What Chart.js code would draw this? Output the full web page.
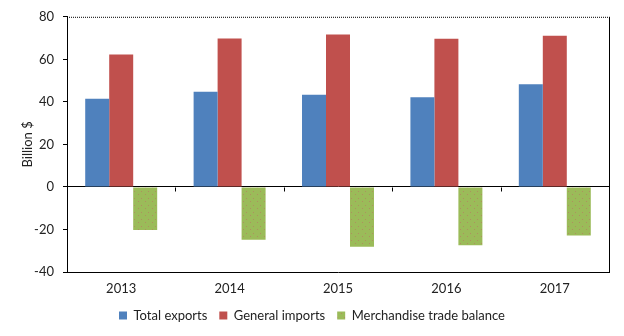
<!DOCTYPE html>
<html>
<head>
<meta charset="utf-8">
<script src="https://cdn.jsdelivr.net/npm/chart.js@4/dist/chart.umd.min.js"></script>
<style>
    html, body { margin: 0; padding: 0; background: #fff; }
    #wrap { width: 624px; height: 336px; }
</style>
</head>
<body>
<div id="wrap"><canvas id="trade-chart"></canvas></div>
<script>
var years = ['2013', '2014', '2015', '2016', '2017'];
var totalExports = [41.5, 44.7, 43.4, 42.2, 48.3];
var generalImports = [62.3, 69.8, 71.7, 69.7, 71.1];
var tradeBalance = [-20.3, -24.8, -28.1, -27.4, -22.8];
var yTicks = [-40, -20, 0, 20, 40, 60, 80];

var font = { family: 'Lato', size: 13 };

// speckled green fill for the balance bars
function makeSpeckle() {
    var c = document.createElement('canvas');
    c.width = 7;
    c.height = 7;
    var g = c.getContext('2d');
    g.fillStyle = '#9BBB59';
    g.fillRect(0, 0, 7, 7);
    g.fillStyle = 'rgba(190,110,100,0.55)';
    g.fillRect(1, 2, 1, 1);
    g.fillRect(5, 5, 1, 1);
    return g.createPattern(c, 'repeat');
}

// box round the plot plus the small ticks on the zero line
var frame = {
    id: 'frame',
    afterDraw: function (chart) {
        var ctx = chart.ctx;
        var a = chart.chartArea;
        var x = chart.scales.x;
        var y = chart.scales.y;
        var zero = Math.round(y.getPixelForValue(0)) + 0.5;
        ctx.save();
        ctx.strokeStyle = '#000';
        ctx.lineWidth = 1;
        ctx.beginPath();
        ctx.moveTo(a.right + 0.5, a.top);
        ctx.lineTo(a.right + 0.5, a.bottom);
        ctx.stroke();
        ctx.setLineDash([1, 1]);
        ctx.beginPath();
        ctx.moveTo(a.left, a.top + 0.5);
        ctx.lineTo(a.right, a.top + 0.5);
        ctx.stroke();
        ctx.setLineDash([]);
        ctx.beginPath();
        for (var i = 1; i < years.length; i++) {
            var px = Math.round((x.getPixelForValue(i - 1) + x.getPixelForValue(i)) / 2) + 0.5;
            ctx.moveTo(px, zero);
            ctx.lineTo(px, zero + 4);
        }
        ctx.stroke();
        ctx.restore();
    }
};

function makeTradeChart() {
    var ctx = document.getElementById('trade-chart');
    var chart = new Chart(ctx, {
        type: 'bar',
        data: {
            labels: years,
            datasets: [{
                    label: 'Total exports',
                    backgroundColor: '#4F81BD',
                    data: totalExports
                },
                {
                    label: 'General imports',
                    backgroundColor: '#C0504D',
                    data: generalImports
                },
                {
                    label: 'Merchandise trade balance',
                    backgroundColor: makeSpeckle(),
                    data: tradeBalance
                }
            ]
        },
        options: {
            responsive: true,
            maintainAspectRatio: false,
            animation: false,
            datasets: {
                bar: { categoryPercentage: 0.664, barPercentage: 1 }
            },
            layout: { padding: { top: 11, right: 15, left: 15, bottom: 4 } },
            plugins: {
                tooltip: { enabled: false },
                legend: {
                    position: 'bottom',
                    labels: {
                        font: font,
                        color: '#222',
                        boxWidth: 8,
                        boxHeight: 8,
                        padding: 12
                    }
                }
            },
            scales: {
                x: {
                    afterFit: function (scale) {
                        scale.height = 25;
                    },
                    grid: { display: false, offset: true },
                    border: { color: '#000', width: 1 },
                    ticks: { font: font, color: '#222', padding: 1 }
                },
                y: {
                    min: -40,
                    max: 80,
                    afterBuildTicks: function (scale) {
                        scale.ticks = yTicks.map(function (v) { return { value: v }; });
                    },
                    afterFit: function (scale) {
                        scale.width = 52;
                    },
                    grid: {
                        color: function (c) { return c.tick && c.tick.value === 0 ? '#000' : 'rgba(0,0,0,0)'; },
                        tickColor: '#000',
                        tickLength: 4
                    },
                    border: { color: '#000', width: 1 },
                    ticks: { font: font, color: '#222', padding: 9 },
                    title: {
                        display: true,
                        text: 'Billion $',
                        font: font,
                        color: '#222',
                        padding: { top: 5, bottom: 0 }
                    }
                }
            }
        },
        plugins: [frame]
    });
}

makeTradeChart();
</script>
</body>
</html>
